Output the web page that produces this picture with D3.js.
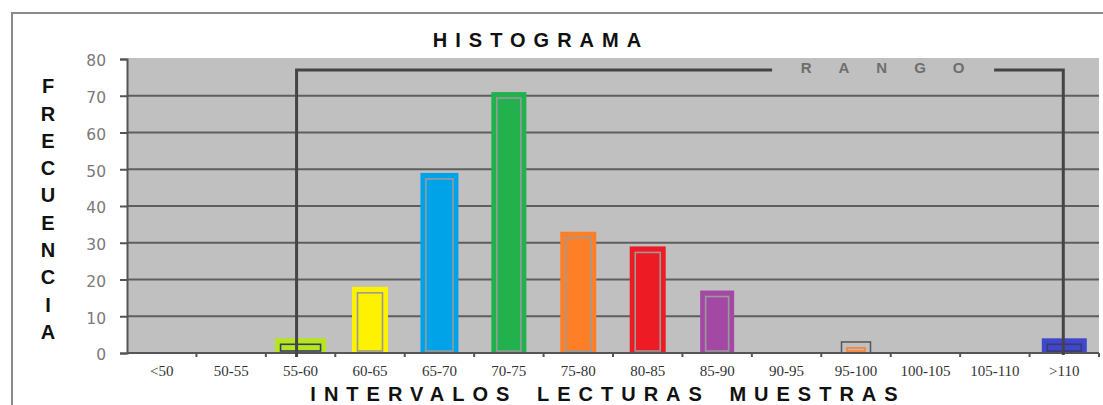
<!DOCTYPE html>
<html>
<head>
<meta charset="utf-8">
<script src="https://cdn.jsdelivr.net/npm/d3@7"></script>
<style>
  html, body { margin: 0; padding: 0; background: #fff; }
  svg { display: block; }
</style>
</head>
<body>
<svg id="chart" width="1103" height="405"></svg>
<script>
// ---- data ----
const categorias = ["<50","50-55","55-60","60-65","65-70","70-75","75-80","80-85","85-90","90-95","95-100","100-105","105-110",">110"];
const frecuencias = [0, 0, 4, 18, 49, 71, 33, 29, 17, 0, 3, 0, 0, 4];
const ticksY = [0, 10, 20, 30, 40, 50, 60, 70, 80];
const rango = ["55-60", ">110"];
const titulo = "HISTOGRAMA";
const tituloX = "INTERVALOS LECTURAS MUESTRAS";
const tituloY = "FRECUENCIA";
const textoRango = "RANGO";

// ---- styles (per category) ----
const estilos = {
  "55-60":  {fill: "#b5e61d", inner: "#3a3a6e", w: 51},
  "60-65":  {fill: "#fff200", inner: "#9a9a9a", w: 36},
  "65-70":  {fill: "#00a2e8", inner: "#9a9a9a", w: 38},
  "70-75":  {fill: "#22b14c", inner: "#9a9a9a", w: 35},
  "75-80":  {fill: "#ff7f27", inner: "#9a9a9a", w: 36},
  "80-85":  {fill: "#ed1c24", inner: "#9a9a9a", w: 36},
  "85-90":  {fill: "#a349a4", inner: "#9a9a9a", w: 34},
  "95-100": {fill: "#c0c0c0", inner: "#ff7f27", w: 29, stroke: "#555"},
  ">110":   {fill: "#3f48cc", inner: "#3a3a6e", w: 45}
};

const svg = d3.select("#chart");
const plot = {left: 127, right: 1099, top: 58, bottom: 353};

const x = d3.scaleBand().domain(categorias).range([plot.left, plot.right]);
const y = d3.scaleLinear().domain([0, 80]).range([plot.bottom, 59]);

// outer frame
svg.append("rect").attr("x", 12).attr("y", 13).attr("width", 1110).attr("height", 420)
  .attr("fill", "#fff").attr("stroke", "#8a8a8a").attr("stroke-width", 2);

// plot background
svg.append("rect").attr("x", plot.left).attr("y", plot.top)
  .attr("width", plot.right - plot.left).attr("height", plot.bottom - plot.top)
  .attr("fill", "#c0c0c0");

// gridlines
svg.append("g").selectAll("line").data(ticksY.filter(d => d > 0 && d < 80)).join("line")
  .attr("x1", plot.left).attr("x2", plot.right)
  .attr("y1", d => y(d)).attr("y2", d => y(d))
  .attr("stroke", "#5e5e5e").attr("stroke-width", 2);

// bars
const datos = categorias.map((c, i) => ({c, v: frecuencias[i]})).filter(d => d.v > 0);
const barras = svg.append("g");
barras.selectAll("rect.outer").data(datos).join("rect").attr("class", "outer")
  .attr("x", d => x(d.c) + x.bandwidth() / 2 - estilos[d.c].w / 2)
  .attr("width", d => estilos[d.c].w)
  .attr("y", d => y(d.v))
  .attr("height", d => y(0) - y(d.v))
  .attr("fill", d => estilos[d.c].fill)
  .attr("stroke", d => estilos[d.c].stroke || "none")
  .attr("stroke-width", 1.5);
barras.selectAll("rect.inner").data(datos).join("rect").attr("class", "inner")
  .attr("x", d => x(d.c) + x.bandwidth() / 2 - estilos[d.c].w / 2 + 5.5)
  .attr("width", d => estilos[d.c].w - 11)
  .attr("y", d => y(d.v) + 6)
  .attr("height", d => Math.max(2, y(0) - 2 - (y(d.v) + 6)))
  .attr("fill", "none")
  .attr("stroke", d => estilos[d.c].inner)
  .attr("stroke-width", 1.6);

// x axis line & boundary ticks
svg.append("line").attr("x1", plot.left).attr("x2", plot.right)
  .attr("y1", plot.bottom).attr("y2", plot.bottom)
  .attr("stroke", "#555").attr("stroke-width", 2);
svg.append("g").selectAll("line").data(categorias.slice(1).concat(["__end"])).join("line")
  .attr("x1", d => d === "__end" ? plot.right : x(d))
  .attr("x2", d => d === "__end" ? plot.right : x(d))
  .attr("y1", plot.bottom).attr("y2", plot.bottom + 4)
  .attr("stroke", "#555").attr("stroke-width", 2);

// x tick labels
const ax = d3.axisBottom(x).tickSize(0).tickPadding(0);
const gx = svg.append("g").attr("transform", `translate(0,${plot.bottom})`).call(ax);
gx.select(".domain").remove();
gx.selectAll("text")
  .attr("y", 23).attr("dy", 0)
  .attr("font-family", "'Liberation Serif', 'Times New Roman', serif")
  .attr("font-size", 15).attr("fill", "#333");

// y axis
const ay = d3.axisLeft(y).tickValues(ticksY).tickSize(7).tickPadding(14);
const gy = svg.append("g").attr("transform", `translate(${plot.left},0)`).call(ay);
gy.select(".domain").attr("stroke", "#555").attr("stroke-width", 2);
gy.selectAll(".tick line").attr("stroke", "#555").attr("stroke-width", 2);
gy.selectAll("text")
  .attr("font-family", "'DejaVu Sans', Verdana, sans-serif")
  .attr("font-size", 15.5).attr("fill", "#7a7a7a").attr("dy", "0.45em");

// RANGO bracket
const xL = x(rango[0]) + x.bandwidth() / 2 - 4;
const xR = x(rango[1]) + x.bandwidth() / 2 - 1;
const yB = 70;
const textoX = xL + (xR - xL) * 0.765;
svg.append("text").attr("x", textoX + 13).attr("y", yB + 3)
  .attr("text-anchor", "middle")
  .attr("font-family", "'Liberation Sans', Arial, sans-serif")
  .attr("font-weight", "bold").attr("font-size", 15)
  .attr("letter-spacing", 27).attr("fill", "#6e6e6e")
  .text(textoRango);
const gapHalf = 111;
const bracket = svg.append("g").attr("fill", "none").attr("stroke", "#444").attr("stroke-width", 3);
bracket.append("path").attr("d", `M${xL},${plot.bottom + 4}V${yB}H${textoX - gapHalf}`);
bracket.append("path").attr("d", `M${textoX + gapHalf},${yB}H${xR}V${plot.bottom + 2}`);

// titles
const fuenteTitulo = "'Liberation Sans', Arial, sans-serif";
svg.append("text").attr("x", 537 + 4).attr("y", 47)
  .attr("text-anchor", "middle").attr("font-family", fuenteTitulo)
  .attr("font-weight", "bold").attr("font-size", 20).attr("letter-spacing", 8)
  .attr("fill", "#111").text(titulo);

svg.append("text").attr("x", 604 + 4).attr("y", 401)
  .attr("text-anchor", "middle").attr("font-family", fuenteTitulo)
  .attr("font-weight", "bold").attr("font-size", 20).attr("letter-spacing", 8)
  .attr("word-spacing", 6)
  .attr("fill", "#111").text(tituloX);

svg.append("g").selectAll("text").data(tituloY.split("")).join("text")
  .attr("x", 48).attr("y", (d, i) => 86 + i * 27.3)
  .attr("dy", "0.36em")
  .attr("text-anchor", "middle").attr("font-family", fuenteTitulo)
  .attr("font-weight", "bold").attr("font-size", 20)
  .attr("fill", "#111").text(d => d);
</script>
</body>
</html>
